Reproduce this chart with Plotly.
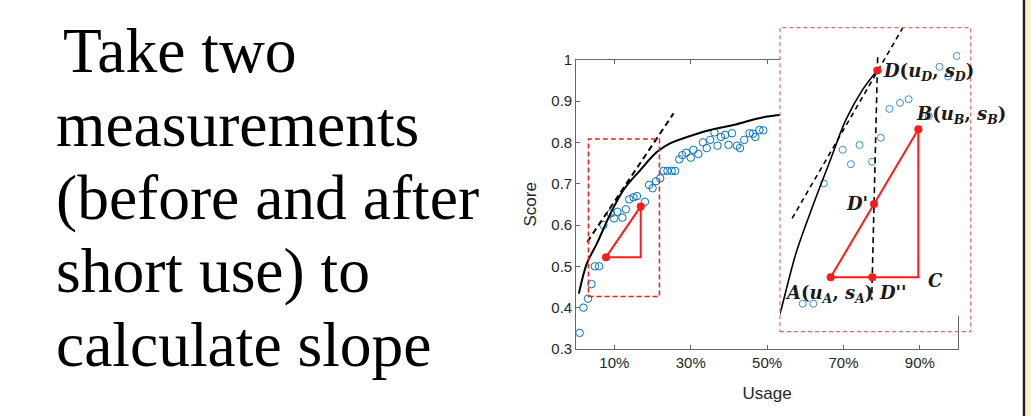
import plotly.graph_objects as go

# ---------------- data ----------------
usage = [0.9, 1.9, 3.1, 4.0, 4.9, 6.0, 7.1, 9.05, 9.9, 10.8, 12.1, 13.0, 13.9, 15.0, 15.9,
         18.0, 19.1, 20.0, 20.9, 22.0, 22.9, 23.9, 25.0, 25.9, 27.0, 27.8, 28.8, 30.0, 30.7,
         32.0, 33.2, 34.2, 35.1, 36.2, 37.0, 37.9, 39.0, 39.9, 40.8, 42.1, 42.9, 44.0, 45.4,
         46.3, 46.9, 48.0, 49.0]
score = [0.339, 0.400, 0.422, 0.457, 0.500, 0.500, 0.600, 0.628, 0.616, 0.632, 0.618, 0.638,
         0.662, 0.667, 0.670, 0.656, 0.697, 0.689, 0.706, 0.713, 0.731, 0.731, 0.731, 0.731,
         0.759, 0.769, 0.775, 0.763, 0.782, 0.772, 0.800, 0.786, 0.806, 0.824, 0.792, 0.813,
         0.818, 0.794, 0.822, 0.792, 0.786, 0.806, 0.822, 0.821, 0.813, 0.830, 0.829]

curve_u = [0.7, 2.8, 5.4, 9.0, 12.4, 16.8, 21.2, 24.7, 28.1, 35.1, 41.2, 49.0, 54.0]
curve_s = [0.434, 0.507, 0.555, 0.628, 0.685, 0.733, 0.777, 0.798, 0.810, 0.830, 0.842, 0.861, 0.867]

tangent_u = [2.9, 25.5]
tangent_s = [0.559, 0.870]

zoom_box_u = [3.2, 21.8]
zoom_box_s = [0.427, 0.808]

# measurement points
A = [7.8, 0.522]
B = [16.9, 0.645]
C = [16.9, 0.522]
D = [12.64, 0.694]
D1 = [12.30, 0.583]   # D'
D2 = [12.12, 0.522]   # D''

# inset (zoomed view)
inset_u_range = [2.54, 21.23]
inset_s_range = [0.4898, 0.7295]
inset_curve_u = [2.3, 2.54, 4.2, 5.93, 7.65, 9.39, 11.12, 12.64]
inset_curve_s = [0.487, 0.492, 0.542, 0.581, 0.617, 0.653, 0.678, 0.694]
inset_tangent_u = [3.8, 15.4]
inset_tangent_s = [0.571, 0.731]
drop_u = [12.68, 12.06]
drop_s = [0.705, 0.503]

x_tickvals = [10, 30, 50, 70, 90]
x_ticktext = ["10%", "30%", "50%", "70%", "90%"]
y_tickvals = [0.3, 0.4, 0.5, 0.6, 0.7, 0.8, 0.9, 1.0]
y_ticktext = ["0.3", "0.4", "0.5", "0.6", "0.7", "0.8", "0.9", "1"]

slide_lines = ["Take two", "measurements", "(before and after", "short use) to", "calculate slope"]

# ---------------- figure ----------------
W, H = 1031, 416
def px(x):
    return x / W
def py(y):
    return 1 - y / H

BLUE = "#0072BD"
RED = "#ff1a1a"

fig = go.Figure()

# main plot
fig.add_trace(go.Scatter(x=usage, y=score, mode="markers", xaxis="x", yaxis="y",
                         marker=dict(symbol="circle-open", size=7.5, color=BLUE, line=dict(width=1))))
fig.add_trace(go.Scatter(x=curve_u, y=curve_s, mode="lines", xaxis="x", yaxis="y",
                         line=dict(color="black", width=2, shape="spline")))
fig.add_trace(go.Scatter(x=tangent_u, y=tangent_s, mode="lines", xaxis="x", yaxis="y",
                         line=dict(color="black", width=2, dash="6px,4px")))
fig.add_trace(go.Scatter(x=[A[0], B[0], C[0], A[0]], y=[A[1], B[1], C[1], A[1]], mode="lines",
                         xaxis="x", yaxis="y", line=dict(color=RED, width=2)))
fig.add_trace(go.Scatter(x=[A[0], B[0]], y=[A[1], B[1]], mode="markers", xaxis="x", yaxis="y",
                         marker=dict(color=RED, size=8)))

# inset plot
fig.add_trace(go.Scatter(x=usage, y=score, mode="markers", xaxis="x2", yaxis="y2",
                         marker=dict(symbol="circle-open", size=7, color="#3a8fd3", line=dict(width=1))))
fig.add_trace(go.Scatter(x=inset_curve_u, y=inset_curve_s, mode="lines", xaxis="x2", yaxis="y2",
                         line=dict(color="black", width=1.6, shape="spline")))
fig.add_trace(go.Scatter(x=inset_tangent_u, y=inset_tangent_s, mode="lines", xaxis="x2", yaxis="y2",
                         line=dict(color="black", width=1.6, dash="5px,4px")))
fig.add_trace(go.Scatter(x=drop_u, y=drop_s, mode="lines", xaxis="x2", yaxis="y2",
                         line=dict(color="black", width=1.6, dash="6px,4px")))
fig.add_trace(go.Scatter(x=[A[0], B[0], C[0], A[0]], y=[A[1], B[1], C[1], A[1]], mode="lines",
                         xaxis="x2", yaxis="y2", line=dict(color=RED, width=2)))
fig.add_trace(go.Scatter(x=[A[0], B[0], D[0], D1[0], D2[0]], y=[A[1], B[1], D[1], D1[1], D2[1]],
                         mode="markers", xaxis="x2", yaxis="y2", marker=dict(color=RED, size=8)))

axis_font = dict(family="Liberation Sans, Arial", size=15, color="#262626")
fig.update_layout(
    width=W, height=H, margin=dict(l=0, r=0, t=0, b=0), template="none",
    paper_bgcolor="white", plot_bgcolor="white", showlegend=False,
    xaxis=dict(domain=[px(576.2), px(958)], range=[0, 100], tickvals=x_tickvals, ticktext=x_ticktext,
               ticks="inside", ticklen=4, tickcolor="#666", showline=True, linecolor="#666",
               linewidth=1, mirror="ticks", showgrid=False, zeroline=False, tickfont=axis_font,
               title=dict(text="Usage", font=dict(family="Liberation Sans, Arial", size=17, color="#262626"),
                          standoff=17)),
    yaxis=dict(domain=[py(349), py(59.7)], range=[0.3, 1.0], tickvals=y_tickvals, ticktext=y_ticktext,
               ticks="inside", ticklen=4, tickcolor="#666", showline=True, linecolor="#666",
               linewidth=1, mirror="ticks", showgrid=False, zeroline=False, tickfont=axis_font,
               title=dict(text="Score", font=dict(family="Liberation Sans, Arial", size=17, color="#262626"),
                          standoff=10)),
    xaxis2=dict(domain=[px(780), px(960)], range=inset_u_range, visible=False, anchor="y2"),
    yaxis2=dict(domain=[py(316), py(27.7)], range=inset_s_range, visible=False, anchor="x2"),
)

shapes = [
    # white cover of the inset (drawn in inset's subplot layer, above main plot)
    dict(type="rect", xref="x2", yref="y2", x0=inset_u_range[0], x1=inset_u_range[1],
         y0=inset_s_range[0], y1=inset_s_range[1], layer="below",
         fillcolor="white", line=dict(width=0)),
    # zoom box on the main plot
    dict(type="rect", xref="x", yref="y", x0=zoom_box_u[0], x1=zoom_box_u[1],
         y0=zoom_box_s[0], y1=zoom_box_s[1], layer="above",
         line=dict(color=RED, width=1.5, dash="5px,3px")),
    # inset frame
    dict(type="rect", xref="paper", yref="paper", x0=px(780), x1=px(970.7), y0=py(331.7), y1=py(27.7),
         layer="above", line=dict(color="#e06a6a", width=1.2, dash="4px,3px")),
    # slide edge
    dict(type="rect", xref="paper", yref="paper", x0=px(1026), x1=1, y0=0, y1=1, layer="above",
         fillcolor="#fcf0c8", line=dict(width=0)),
    dict(type="line", xref="paper", yref="paper", x0=px(1024), x1=px(1024), y0=0, y1=1, layer="above",
         line=dict(color="#222", width=2.5)),
]
fig.update_layout(shapes=shapes)

ann = []
baselines = [73, 147, 220, 293, 367]
indents = [61, 54, 54, 54, 54]
for line, b, ind in zip(slide_lines, baselines, indents):
    ann.append(dict(text=line, xref="paper", yref="paper", x=px(ind), y=py(b - 23), xanchor="left",
                    yanchor="middle", showarrow=False,
                    font=dict(family="Liberation Serif, Times New Roman", size=63.5, color="black")))

lab_font = dict(family="DejaVu Serif", size=18, color="#1a1a1a")
labels = [
    ("<b><i>D</i>(<i>u<sub>D</sub></i>, <i>s<sub>D</sub></i>)</b>", D, "left", "middle", 4, -2),
    ("<b><i>B</i>(<i>u<sub>B</sub></i>, <i>s<sub>B</sub></i>)</b>", B, "left", "middle", -4, 14),
    ("<b><i>D'</i></b>", D1, "right", "middle", -4, 0),
    ("<b><i>A</i>(<i>u<sub>A</sub></i>, <i>s<sub>A</sub></i>)</b>", A, "center", "middle", -2, -17),
    ("<b><i>D''</i></b>", D2, "left", "middle", 5, -15),
    ("<b><i>C</i></b>", C, "left", "middle", 8, -3),
]
for txt, p, xa, ya, xs, ys in labels:
    ann.append(dict(text=txt, xref="x2", yref="y2", x=p[0], y=p[1], xanchor=xa, yanchor=ya,
                    xshift=xs, yshift=ys, showarrow=False, font=lab_font))
fig.update_layout(annotations=ann)

fig.write_html("out.html", config={"displayModeBar": False},
               post_script="document.body.style.margin='0px';document.body.style.overflow='hidden';")
